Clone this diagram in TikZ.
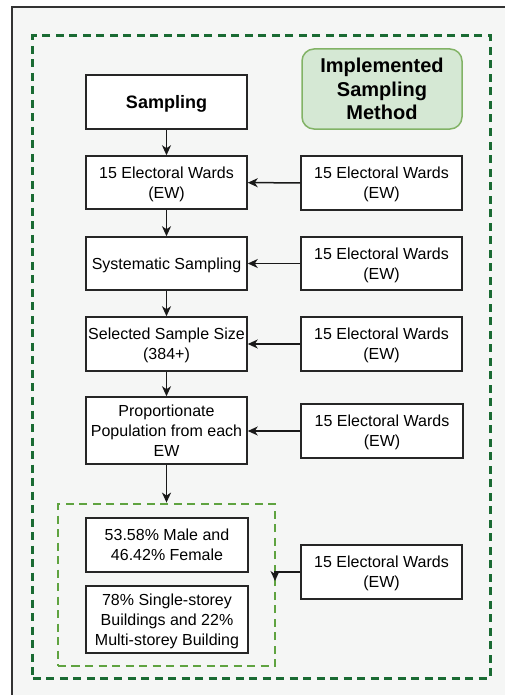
\documentclass[tikz,border=0pt]{standalone}
\usepackage{fontspec}
\setmainfont{Liberation Sans}
\usetikzlibrary{arrows.meta}
\definecolor{bgc}{HTML}{F5F6F5}
\definecolor{frm}{HTML}{333333}
\definecolor{dkgreen}{HTML}{1A6B33}
\definecolor{ltgreen}{HTML}{5FA340}
\definecolor{ttlfill}{HTML}{D5E8D4}
\definecolor{ttldraw}{HTML}{82B366}
\begin{document}
\begin{tikzpicture}[x=1bp,y=-1bp,
  box/.style={draw=black!85, fill=white, line width=1.5bp, align=center, inner sep=0pt, text depth=0pt,
    minimum width=161bp, font=\fontsize{16bp}{20bp}\selectfont},
  arr/.style={-{Stealth[length=10bp,width=9bp,inset=3bp]}, line width=1.5bp, black!90},
  grpbox/.style={draw, inner sep=0pt, line width=3bp, dash pattern=on 8bp off 5.5bp}]
\useasboundingbox (0,0) rectangle (505,695);
\clip (0,0) rectangle (505,695);
\fill[white] (0,0) rectangle (505,695);
\fill[bgc] (12,7) rectangle (530,720);
\draw[frm, line width=1.6bp] (12,7) rectangle (530,720);
% dark green outer group
\node[grpbox, draw=dkgreen, minimum width=457bp, minimum height=642bp] (outer) at (261.5,357) {};
% title
\node[draw=ttldraw, fill=ttlfill, rounded corners=12bp, line width=1.5bp, minimum width=160bp, minimum height=80bp,
  align=center, inner sep=0pt, text depth=0pt, font=\fontsize{20bp}{23.5bp}\selectfont\bfseries] (title) at (382,89) {Implemented\\Sampling\\Method};
% left column
\node[box, minimum height=54bp, font=\fontsize{18bp}{22bp}\selectfont\bfseries] (samp) at (166.5,102) {Sampling};
\node[box, minimum height=53bp] (b1) at (166.5,182.5) {15 Electoral Wards\\(EW)};
\node[box, minimum height=53bp] (b2) at (166.5,263.5) {Systematic Sampling};
\node[box, minimum height=54bp] (b3) at (166.5,344) {Selected Sample Size\\(384+)};
\node[box, minimum height=67bp] (b4) at (166.5,430.5) {Proportionate\\Population from each\\EW};
% inner light-green group
\node[grpbox, draw=ltgreen, line width=2.8bp, minimum width=217bp, minimum height=162bp] (grp) at (166.5,585) {};
\node[box, minimum width=162bp, minimum height=54bp] (ga) at (167,545) {53.58\% Male and\\46.42\% Female};
\node[box, minimum width=162bp, minimum height=67bp] (gb) at (167,619.5) {78\% Single-storey\\Buildings and 22\%\\Multi-storey Building};
% right column
\node[box, minimum height=54bp] (r1) at (381.5,183) {15 Electoral Wards\\(EW)};
\node[box, minimum height=53bp] (r2) at (381.5,263.5) {15 Electoral Wards\\(EW)};
\node[box, minimum height=54bp] (r3) at (381.5,344) {15 Electoral Wards\\(EW)};
\node[box, minimum width=162bp, minimum height=54bp] (r4) at (382,431) {15 Electoral Wards\\(EW)};
\node[box, minimum height=54bp] (r5) at (381.5,572) {15 Electoral Wards\\(EW)};
\coordinate (e5) at (275,581);
% connectors
\draw[arr] (samp) -- (b1);
\draw[arr] (b1) -- (b2);
\draw[arr] (b2) -- (b3);
\draw[arr] (b3) -- (b4);
\draw[arr] (b4) -- (grp.north);
\draw[arr] (r1) -- (b1);
\draw[arr] (r2) -- (b2);
\draw[arr] (r3) -- (b3);
\draw[arr] (r4.west) -- (b4.east |- r4.west);
\draw[arr] (r5.west) -| (e5);
\end{tikzpicture}
\end{document}
